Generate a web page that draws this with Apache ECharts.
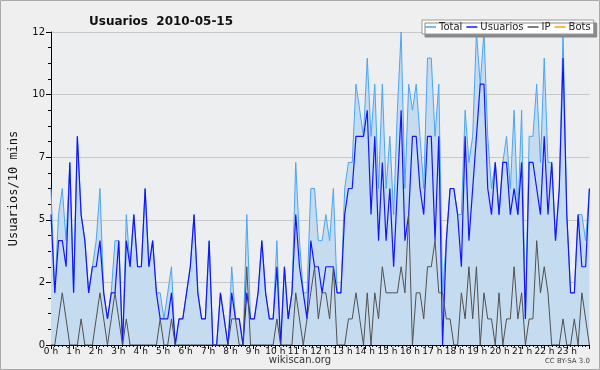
<!DOCTYPE html>
<html>
<head>
<meta charset="utf-8">
<script src="https://cdn.jsdelivr.net/npm/echarts@6/dist/echarts.min.js"></script>
<style>
html,body{margin:0;padding:0;background:#efefef;}
#chart{width:600px;height:370px;}
</style>
</head>
<body>
<div id="chart"></div>
<script>
// 144 ten-minute slots over the day
const total = [6,2,5,6,4,7,2,8,5,4,2,3,4,6,2,1,2,4,4,0,5,3,5,3,
  3,6,3,4,2,2,1,2,3,0,1,1,2,3,5,2,1,1,4,0,0,2,1,0,
  3,1,1,0,5,1,1,2,4,2,1,1,4,0,3,1,2,7,4,2,2,6,6,4,
  4,5,4,6,2,2,6,7,7,10,9,8,11,8,10,6,10,6,8,5,9,12,6,10,
  9,10,8,6,11,11,8,10,2,4,6,6,5,5,9,7,8,12,10,12,8,6,7,5,
  7,8,6,9,5,9,1,8,8,10,7,11,7,7,4,6,12,5,2,2,5,5,4,6];
const usuarios = [5,2,4,4,3,7,2,8,5,4,2,3,3,4,2,1,2,2,4,0,4,3,5,3,
  3,6,3,4,2,1,1,1,2,0,1,1,2,3,5,2,1,1,4,0,0,2,1,0,
  2,1,1,0,2,1,1,2,4,2,1,1,3,0,3,1,2,5,3,2,1,4,3,3,
  2,3,3,3,2,2,5,6,6,8,8,8,9,5,8,4,7,4,6,3,6,9,4,5,
  8,8,6,5,8,8,4,8,0,4,6,6,5,3,8,4,6,8,10,10,6,5,7,5,
  7,7,5,6,5,7,1,7,7,6,5,8,5,7,4,6,11,5,2,2,5,3,3,6];
const ip = [0,0,1,2,1,0,0,0,1,0,0,0,1,2,1,0,1,2,1,0,1,0,0,0,
  0,0,0,0,0,1,0,0,1,0,0,0,0,0,0,0,0,0,0,0,0,0,0,0,
  1,1,0,0,3,0,0,0,0,0,0,0,1,0,0,0,0,2,1,0,1,2,3,1,
  2,2,1,3,0,0,0,1,1,2,1,0,2,0,2,1,3,2,2,2,2,3,2,5,
  0,2,2,1,3,3,4,2,2,1,1,0,0,2,1,3,1,3,0,2,1,1,0,2,
  0,1,1,3,1,2,0,1,1,4,2,3,2,0,0,0,1,0,0,1,0,2,1,0];
const bots = [];
const hourLabels = ['0 h','1 h','2 h','3 h','4 h','5 h','6 h','7 h','8 h','9 h','10 h','11 h',
  '12 h','13 h','14 h','15 h','16 h','17 h','18 h','19 h','20 h','21 h','22 h','23 h'];
const slots = [];
for (let i = 0; i < total.length; i++) slots.push(String(i));

const chart = echarts.init(document.getElementById('chart'), null, {renderer:'canvas'});
const baseFont = 'DejaVu Sans, sans-serif';
chart.setOption({
  animation: false,
  backgroundColor: '#efefef',
  title: {
    text: 'Usuarios  2010-05-15',
    left: 84, top: 11,
    textStyle: {fontFamily: baseFont, fontSize: 12, fontWeight: 'bold', color: '#111'}
  },
  legend: {
    left: 422, top: 20, width: 176,
    data: ['Total','Usuarios','IP','Bots'],
    icon: 'rect', itemWidth: 11, itemHeight: 1.5, itemGap: 4,
    padding: [2, 3, 2, 3],
    backgroundColor: '#ffffff', borderColor: '#999', borderWidth: 1,
    shadowColor: '#888', shadowOffsetX: 3, shadowOffsetY: 3, shadowBlur: 0,
    textStyle: {fontFamily: baseFont, fontSize: 10, color: '#222', padding: [0,0,0,-2]}
  },
  graphic: [
    {type: 'rect', shape: {x: 0.5, y: 0.5, width: 599, height: 369}, style: {fill: 'none', stroke: '#aaa', lineWidth: 1}, z: 100},
    {type: 'text', left: 'center', top: 355, style: {text: 'wikiscan.org', font: '10px ' + baseFont, fill: '#333'}},
    {type: 'text', right: 10, top: 358, style: {text: 'CC BY-SA 3.0', font: '7px ' + baseFont, fill: '#444'}}
  ],
  grid: {left: 46, right: 10.6, top: 32, bottom: 25, show: true, backgroundColor: '#edeef0', borderWidth: 0},
  xAxis: [
    {type: 'category', data: slots, boundaryGap: false, show: false},
    {type: 'value', min: 0, max: 24, interval: 1, position: 'bottom',
     axisLine: {show: true, onZero: false, lineStyle: {color: '#000', width: 1}},
     axisTick: {show: true, length: 4, lineStyle: {color: '#000'}},
     minorTick: {show: true, splitNumber: 6, length: 2, lineStyle: {color: '#000'}},
     splitLine: {show: false},
     axisLabel: {margin: 2, fontFamily: baseFont, fontSize: 9, color: '#111',
       formatter: v => (v < 24 ? hourLabels[v] : '')}}
  ],
  yAxis: {
    type: 'value', min: 0, max: 12, interval: 2.4,
    name: 'Usuarios/10 mins', nameLocation: 'middle', nameGap: 31, nameRotate: 90,
    nameTextStyle: {fontFamily: 'DejaVu Sans Mono, monospace', fontSize: 12, color: '#111'},
    axisLine: {show: true, lineStyle: {color: '#000', width: 1}},
    axisTick: {show: true, length: 5, lineStyle: {color: '#000'}},
    minorTick: {show: true, splitNumber: 4, length: 3, lineStyle: {color: '#000'}},
    splitLine: {show: true, lineStyle: {color: '#c8c8c8', width: 1}},
    axisLabel: {margin: 6, fontFamily: baseFont, fontSize: 10, color: '#111', formatter: v => String(Math.round(v))}
  },
  series: [
    {name: 'Total', type: 'line', xAxisIndex: 0, data: total, symbol: 'none',
     lineStyle: {color: '#4aa5f5', width: 1}, itemStyle: {color: '#4aa5f5'},
     areaStyle: {color: '#c5dcf0', opacity: 1}},
    {name: 'Usuarios', type: 'line', xAxisIndex: 0, data: usuarios, symbol: 'none',
     lineStyle: {color: '#1414ff', width: 1.2}, itemStyle: {color: '#1414ff'}},
    {name: 'IP', type: 'line', xAxisIndex: 0, data: ip, symbol: 'none',
     lineStyle: {color: '#505050', width: 1}, itemStyle: {color: '#505050'}},
    {name: 'Bots', type: 'line', xAxisIndex: 0, data: bots, symbol: 'none',
     lineStyle: {color: '#ffa500', width: 1}, itemStyle: {color: '#ffa500'}}
  ]
});
</script>
</body>
</html>
